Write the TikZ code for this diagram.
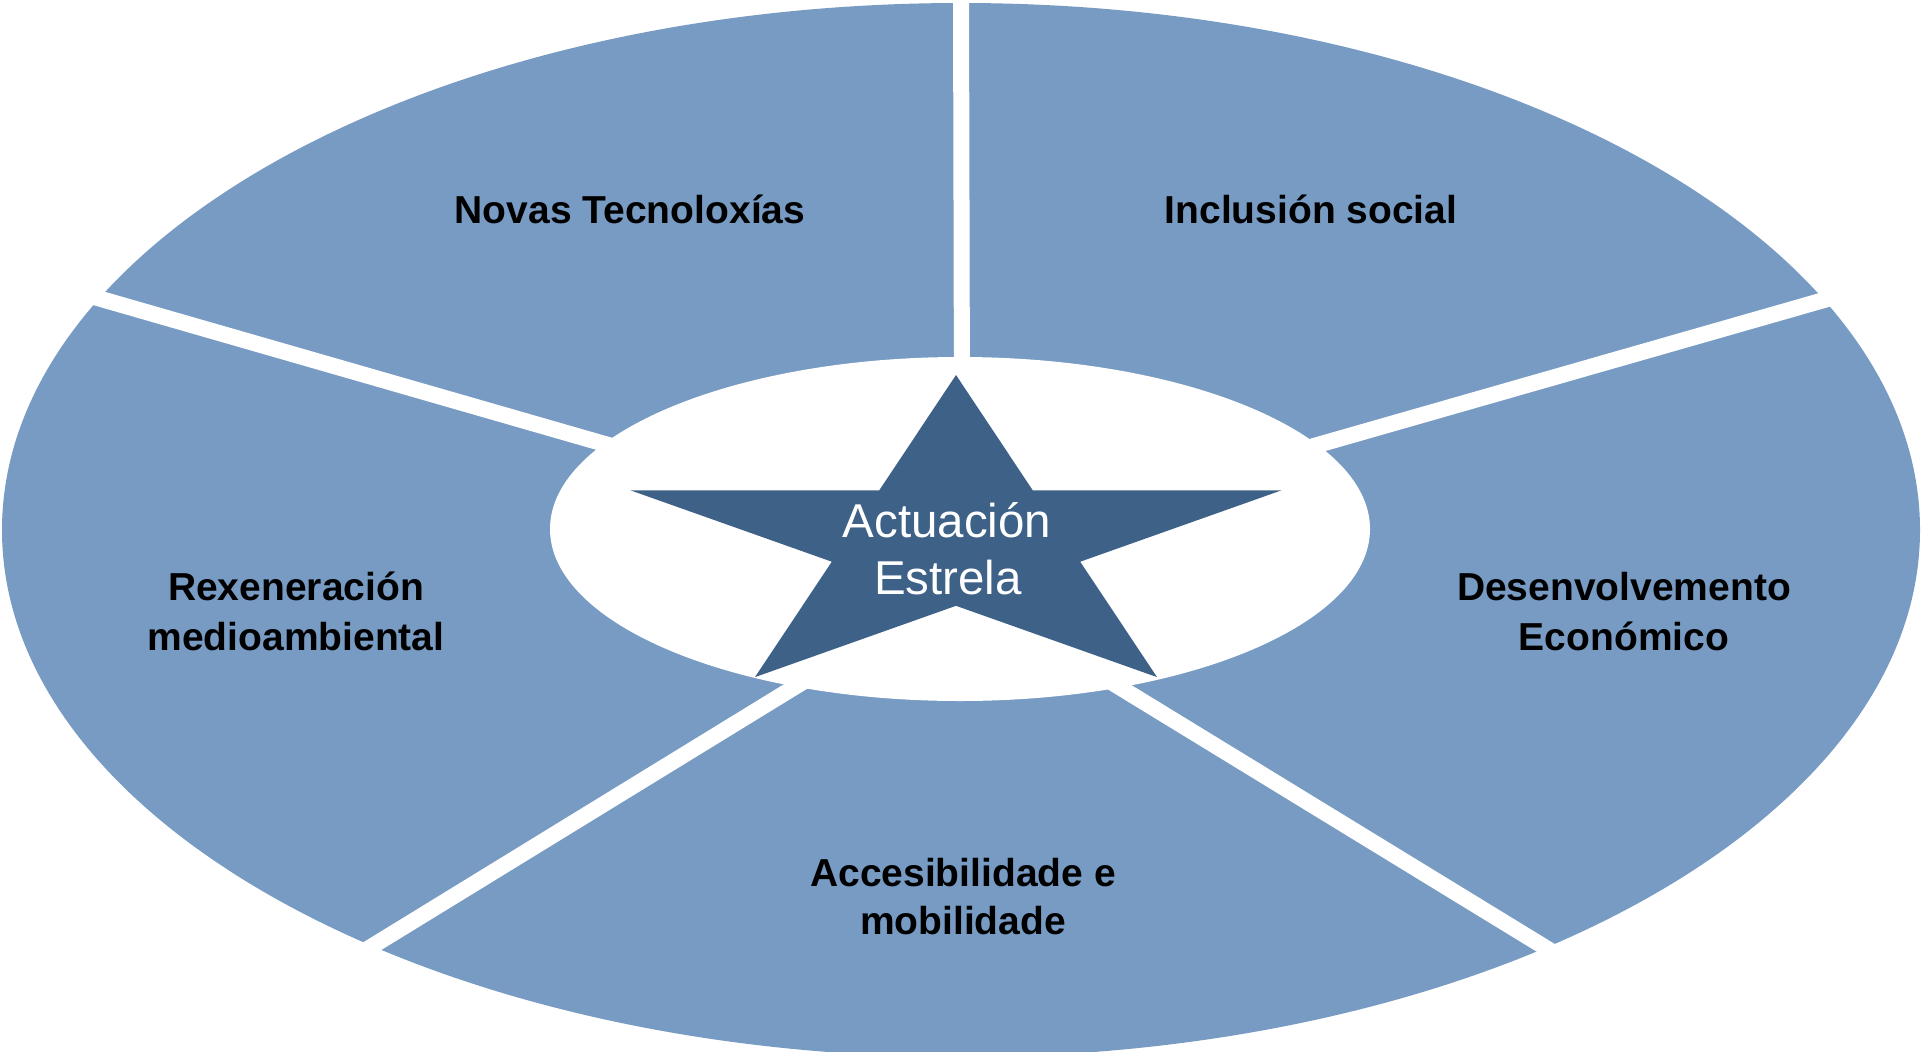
\documentclass[tikz,border=0pt]{standalone}
\usepackage{fontspec}
\setmainfont{Liberation Sans}
\definecolor{segblue}{RGB}{120,155,196}
\definecolor{starblue}{RGB}{62,97,136}
\begin{document}
\begin{tikzpicture}[x=1pt,y=-1pt,
  gap/.style={white,line width=16pt},
  seglabel/.style={anchor=base,inner sep=0pt,font=\fontsize{39}{50}\selectfont\bfseries,text=black},
  starlabel/.style={anchor=base,inner sep=0pt,font=\fontsize{47.5}{57}\selectfont,text=white}]
\useasboundingbox (0,0) rectangle (1922,1052);
\begin{scope}
\clip (0,0) rectangle (1922,1052);
% outer ring
\fill[segblue] (961,530) ellipse [x radius=959, y radius=527];
% divider coordinates
\coordinate (t1) at (961,-10);   \coordinate (t2) at (962,420);
\coordinate (ul1) at (42.3,282.1); \coordinate (ul2) at (643.4,455.1);
\coordinate (ur1) at (1885.2,282.5); \coordinate (ur2) at (1279,456);
\coordinate (ll1) at (322.9,976.4); \coordinate (ll2) at (829.6,665.6);
\coordinate (lr1) at (1597.2,979.3); \coordinate (lr2) at (1085.9,666.6);
\draw[gap] (t1) -- (t2);
\draw[gap] (ul1) -- (ul2);
\draw[gap] (ur1) -- (ur2);
\draw[gap] (ll1) -- (ll2);
\draw[gap] (lr1) -- (lr2);
% inner white ellipse
\fill[white] (960,529) ellipse [x radius=410, y radius=172];
\end{scope}
% star
\fill[starblue] (956,375) -- (1032.8,490.4) -- (1281.3,490.4) -- (1080.2,561.7)
  -- (1157,677.1) -- (956,605.8) -- (755,677.1) -- (831.8,561.7)
  -- (630.7,490.4) -- (879.2,490.4) -- cycle;
% labels
\node[starlabel] (act) at (947,537) {Actuación};
\node[starlabel] (est) at (948,594) {Estrela};
\node[seglabel] (nov) at (630,223) {Novas Tecnoloxías};
\node[seglabel] (inc) at (1311,223) {Inclusión social};
\node[seglabel] (rex1) at (296,600) {Rexeneración};
\node[seglabel] (rex2) at (296,650) {medioambiental};
\node[seglabel] (des1) at (1624,600) {Desenvolvemento};
\node[seglabel] (des2) at (1624,650) {Económico};
\node[seglabel] (acc1) at (963,886) {Accesibilidade e};
\node[seglabel] (acc2) at (963,934) {mobilidade};
\end{tikzpicture}
\end{document}
